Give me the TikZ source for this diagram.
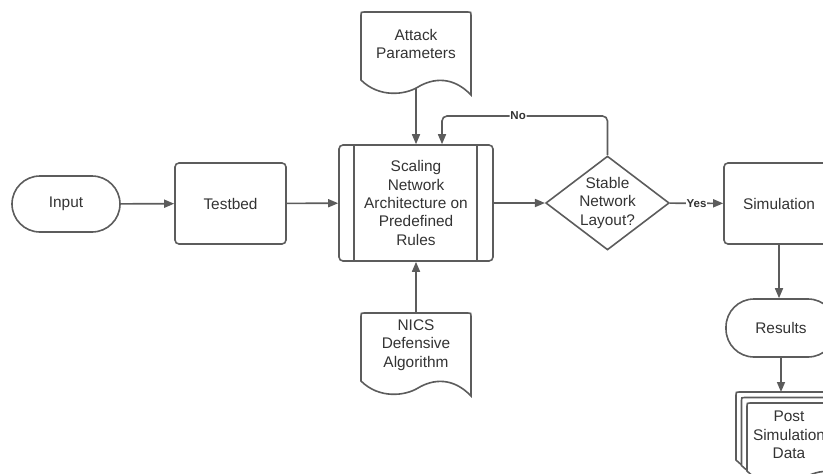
\documentclass[tikz,border=0pt]{standalone}
\usepackage{fontspec}
\setmainfont{Liberation Sans}
\usetikzlibrary{arrows.meta,shapes.geometric}
\definecolor{linegray}{HTML}{5C5C5C}
\definecolor{textgray}{HTML}{333333}
% document sheet with wavy bottom, #1 = top left corner, #2 = offset
\newcommand{\docsheet}[2]{%
  \draw[docline, shift={(#1)}, shift={(#2)}] (0,68) -- (0,3) .. controls (0,0) .. (3,0) -- (107,0)
    .. controls (110,0) .. (110,3) -- (110,83)
    .. controls (92,64) and (72,66) .. (57,75)
    .. controls (44,83) and (18,86) .. (0,68) -- cycle;}

\begin{document}
\begin{tikzpicture}[x=1pt, y=-1pt,
    every node/.style={text=textgray, font=\fontsize{15.4}{18.3}\selectfont, align=center},
    box/.style={draw=linegray, line width=1.6pt, rounded corners=4pt, minimum width=111pt, minimum height=81pt},
    terminal/.style={draw=linegray, line width=1.6pt, rounded corners=28pt, minimum width=108pt, minimum height=56pt},
    decision/.style={diamond, draw=linegray, line width=1.6pt, inner sep=0pt, aspect=1.315, minimum width=121pt, minimum height=92pt},
    docline/.style={draw=linegray, fill=white, line width=1.6pt},
    flow/.style={draw=linegray, line width=1.6pt, -{Triangle[length=10pt, width=8pt]}},
    tag/.style={fill=white, inner sep=1pt, font=\fontsize{11.5}{13}\selectfont\bfseries}]
  \useasboundingbox (0,0) rectangle (823,474);
  \clip (0,0) rectangle (823,474);

  \node[terminal] (input) at (66,204) {Input};
  \node[box] (testbed) at (230.5,203.5) {Testbed};
  \node[box, minimum width=154pt, minimum height=116pt] (scaling) at (416,203)
    {Scaling\\Network\\Architecture on\\Predefined\\Rules};
  \draw[draw=linegray, line width=1.6pt] ([xshift=16pt]scaling.north west) -- ([xshift=16pt]scaling.south west);
  \draw[draw=linegray, line width=1.6pt] ([xshift=-17pt]scaling.north east) -- ([xshift=-17pt]scaling.south east);
  \node[decision] (stable) at (607.5,203) {Stable\\Network\\Layout?};
  \node[box, minimum width=110pt] (sim) at (779,203.5) {Simulation};
  \node[terminal, minimum width=110pt, minimum height=58pt] (results) at (781,328) {Results};

  % documents
  \coordinate (attack-nw) at (361,12);
  \docsheet{attack-nw}{0,0}
  \node (attack) at (416,44) {Attack\\Parameters};
  \coordinate (attack-out) at (416,88);

  \coordinate (nics-nw) at (361,313);
  \docsheet{nics-nw}{0,0}
  \node (nics) at (416,345) {NICS\\Defensive\\Algorithm};
  \coordinate (nics-top) at (416,313);

  \coordinate (stack) at (747,403);
  \foreach \d in {-11,-5.5,0} {
    \docsheet{stack}{\d,\d}
  }
  \node (post) at (789,435) {Post\\Simulation\\Data};
  \coordinate (stack-back) at (736,392);

  % connectors
  \draw[flow] (input) -- (testbed);
  \draw[flow] (testbed) -- (scaling);
  \draw[flow] (scaling) -- (stable);
  \draw[flow] (stable) -- node[tag] (yes) {Yes} (sim);
  \draw[flow] (attack-out) -- (attack-out |- scaling.north);
  \draw[flow] (nics-top) -- (nics-top |- scaling.south);
  \coordinate (loop) at (442,116);
  \draw[flow, rounded corners=5pt] (stable.north) |- (loop) node[tag, pos=0.77] (no) {No}
    -- (loop |- scaling.north);
  \draw[flow] (sim.south) -- (sim.south |- results.north);
  \draw[flow] (results.south) -- (results.south |- stack-back);
\end{tikzpicture}
\end{document}
